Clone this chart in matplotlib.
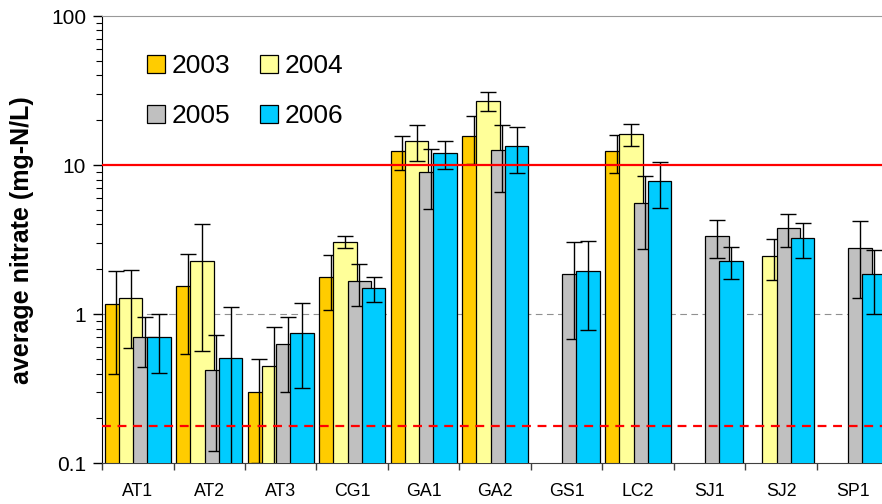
import numpy as np
import matplotlib.pyplot as plt
from matplotlib.ticker import LogLocator, FixedLocator, NullFormatter, FuncFormatter

plt.rcParams['font.family'] = ['Liberation Sans', 'DejaVu Sans']

# Sites and yearly average nitrate (mg-N/L), with error bars (+/- linear)
sites = ['AT1', 'AT2', 'AT3', 'CG1', 'GA1', 'GA2', 'GS1', 'LC2', 'SJ1', 'SJ2', 'SP1']
years = ['2003', '2004', '2005', '2006']
nan = np.nan

v2003 = [1.17, 1.54, 0.30, 1.78, 12.4, 15.7, nan, 12.4, nan, nan, nan]
v2004 = [1.29, 2.29, 0.446, 3.06, 14.6, 26.9, nan, 16.1, nan, 2.45, nan]
v2005 = [0.70, 0.42, 0.63, 1.66, 8.95, 12.65, 1.86, 5.58, 3.32, 3.76, 2.76]
v2006 = [0.705, 0.51, 0.75, 1.49, 12.0, 13.5, 1.95, 7.86, 2.28, 3.24, 1.86]

e2003 = [0.77, 1.0, 0.20, 0.72, 3.2, 5.6, nan, 3.6, nan, nan, nan]
e2004 = [0.70, 1.72, 0.37, 0.30, 4.0, 4.0, nan, 2.7, nan, 0.75, nan]
e2005 = [0.26, 0.30, 0.33, 0.52, 3.9, 6.0, 1.18, 2.85, 0.94, 0.95, 1.48]
e2006 = [0.30, 0.60, 0.43, 0.29, 2.6, 4.6, 1.17, 2.7, 0.55, 0.87, 0.85]

values = [v2003, v2004, v2005, v2006]
errors = [e2003, e2004, e2005, e2006]
colors = ['#FFCC00', '#FFFF99', '#C0C0C0', '#00CCFF']

fig = plt.figure(figsize=(8.82, 5.04), dpi=100)
ax = fig.add_axes([102 / 882, 1 - 463.3 / 504, 786.5 / 882, 447.3 / 504])

x = np.arange(len(sites)) + 0.5
offsets = [-0.3, -0.1, 0.1, 0.3]
width = 0.33

# gray dashed reference at 1 (behind bars)
ax.axhline(1, color='#909090', linestyle=(0, (6, 4)), linewidth=0.8, zorder=0.5)

handles = []
for k in range(4):
    v = np.array(values[k], dtype=float)
    e = np.array(errors[k], dtype=float)
    m = ~np.isnan(v)
    xs = x[m] + offsets[k]
    b = ax.bar(xs, v[m], width=width, color=colors[k], edgecolor='black',
               linewidth=0.9, zorder=2 + k)
    ax.errorbar(xs, v[m], yerr=e[m], fmt='none', ecolor='black',
                elinewidth=1, capsize=5.5, capthick=1, zorder=2.5 + k)
    handles.append(b)

# limit lines
ax.axhline(10, color='#FF0000', linewidth=1.6, zorder=10)
ax.axhline(0.178, color='#FF0000', linestyle=(0, (4, 3)), linewidth=1.6, zorder=10)

ax.set_yscale('log')
ax.set_ylim(0.1, 100)
ax.set_xlim(0, len(sites))

ax.yaxis.set_major_locator(FixedLocator([0.1, 1, 10, 100]))
ax.yaxis.set_major_formatter(FuncFormatter(lambda y, p: ('%g' % y)))
ax.yaxis.set_minor_locator(LogLocator(base=10, subs=np.arange(2, 10)))
ax.yaxis.set_minor_formatter(NullFormatter())
ax.tick_params(axis='y', which='major', direction='out', length=6.5, width=1,
               labelsize=15, pad=5)
ax.tick_params(axis='y', which='minor', direction='out', length=4.5, width=0.8)

ax.set_xticks(np.arange(len(sites) + 1))
ax.set_xticklabels([])
ax.set_xticks(x, minor=True)
ax.set_xticklabels(sites, minor=True)
ax.tick_params(axis='x', which='major', direction='out', length=5, width=1,
               color='#404040')
ax.tick_params(axis='x', which='minor', length=0, labelsize=12.8, pad=14)

ax.spines['top'].set_color('#999999')
ax.spines['right'].set_visible(False)
ax.spines['left'].set_color('black')
ax.spines['bottom'].set_color('#404040')

ax.set_ylabel('average nitrate (mg-N/L)', fontsize=18, fontweight='bold', labelpad=12)

# legend filled row by row: 2003 2004 / 2005 2006
order = [0, 2, 1, 3]
ax.legend([handles[i] for i in order], [years[i] for i in order], ncol=2,
          loc='upper left', bbox_to_anchor=(0.041, 0.944),
          frameon=False, fontsize=19, handlelength=0.67, handleheight=0.67,
          handletextpad=0.25, labelspacing=0.98, columnspacing=1.12, borderpad=0)

fig.savefig('out.png', dpi=100)
